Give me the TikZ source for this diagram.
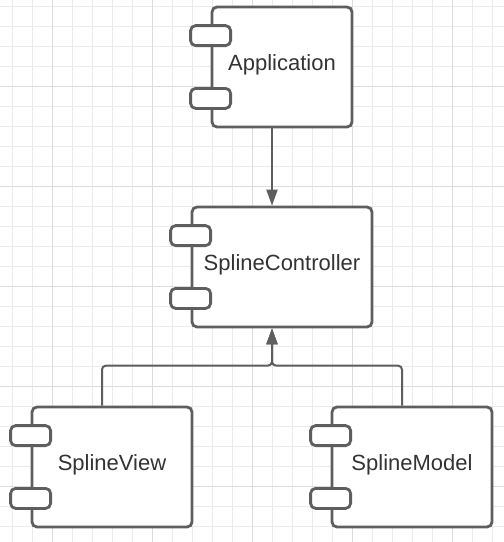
\documentclass[tikz,border=0pt]{standalone}
\usepackage{fontspec}
\setmainfont{Liberation Sans}
\usetikzlibrary{arrows.meta, positioning}
\definecolor{linegray}{HTML}{5E5E5E}
\definecolor{textgray}{HTML}{333333}
\definecolor{gridminor}{HTML}{EBEBEB}
\definecolor{gridmajor}{HTML}{DCDCDC}

\begin{document}
\begin{tikzpicture}[
  x=1pt, y=-1pt,
  comp/.style={draw=linegray, line width=2.8pt, fill=white, rounded corners=5pt,
    minimum height=120pt, inner sep=0pt, text=textgray,
    font=\fontsize{22}{26}\selectfont, text height=16pt, text depth=10pt},
  port/.style={draw=linegray, line width=2.8pt, fill=white, rounded corners=5pt,
    minimum width=40pt, minimum height=20pt, inner sep=0pt},
  conn/.style={draw=linegray, line width=2pt, rounded corners=4pt,
    -{Triangle[length=16pt, width=11pt]}},
  gridline/.style={gridminor, line width=1pt},
  majorline/.style={gridmajor, line width=1pt},
]

%% Background grid
\fill[white] (0,0) rectangle (504,542);
\useasboundingbox (0,0) rectangle (504,542);
\foreach \gx in {12,32,...,492} \draw[gridline] (\gx,0) -- (\gx,542);
\foreach \gy in {6.5,26.5,...,526.5} \draw[gridline] (0,\gy) -- (504,\gy);
\foreach \gx in {52,152,...,452} \draw[majorline] (\gx,0) -- (\gx,542);
\foreach \gy in {86.5,186.5,...,486.5} \draw[majorline] (0,\gy) -- (504,\gy);

%% Components
\node[comp, minimum width=140pt] (app) at (282,67) {Application};
\node[comp, minimum width=180pt] (ctrl) at (282,267) {SplineController};
\node[comp, minimum width=160pt] (view) at (112,467) {SplineView};
\node[comp, minimum width=160pt] (model) at (412,467) {SplineModel};

%% Ports on the left edge
\foreach \c in {app, ctrl, view, model} {
  \node[port] (\c-p1) at ([yshift=-30pt]\c.north west) {};
  \node[port] (\c-p2) at ([yshift=30pt]\c.south west) {};
}

%% Dependencies
\draw[conn] ([xshift=-10pt]app.south) -- ([xshift=-10pt]ctrl.north);
\draw[conn] ([xshift=-10pt]view.north) -- ++(0,-40) -| ([xshift=-10pt]ctrl.south);
\draw[conn] ([xshift=-10pt]model.north) -- ++(0,-40) -| ([xshift=-10pt]ctrl.south);

\end{tikzpicture}
\end{document}
